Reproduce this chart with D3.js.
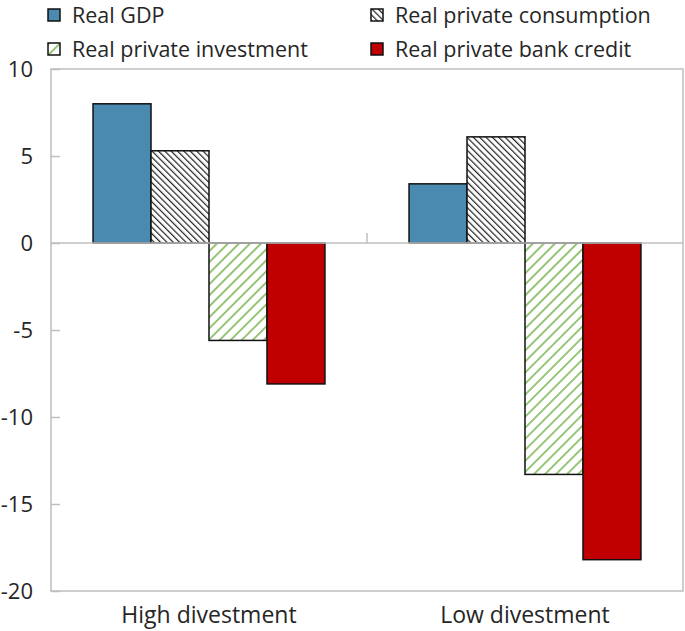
<!DOCTYPE html>
<html>
<head>
<meta charset="utf-8">
<script src="https://cdn.jsdelivr.net/npm/d3@7"></script>
<style>
  body { margin: 0; background: #fff; }
  text { font-family: "Open Sans", sans-serif; fill: #262626; }
</style>
</head>
<body>
<div id="chart"></div>
<script>
// data
var categories = ["High divestment", "Low divestment"];
var seriesNames = ["Real GDP", "Real private consumption", "Real private investment", "Real private bank credit"];
var gdp = [8.0, 3.4];
var consumption = [5.3, 6.1];
var investment = [-5.6, -13.3];
var credit = [-8.1, -18.2];
var yTicks = [10, 5, 0, -5, -10, -15, -20];

var seriesValues = [gdp, consumption, investment, credit];

svgWidth = 685;
svgHeight = 631;

margin = { top: 69, bottom: 40, left: 51, right: 2 };

svg = d3.select("#chart")
    .append("svg")
    .attr("width", svgWidth)
    .attr("height", svgHeight);

// patterns
var defs = svg.append("defs");

var hatch = defs.append("pattern")
    .attr("id", "hatchBlack")
    .attr("patternUnits", "userSpaceOnUse")
    .attr("width", 4.5)
    .attr("height", 4.5)
    .attr("patternTransform", "rotate(-45)");
hatch.append("rect").attr("width", 4.5).attr("height", 4.5).attr("fill", "#fff");
hatch.append("line")
    .attr("x1", 0).attr("y1", 0).attr("x2", 0).attr("y2", 4.5)
    .attr("stroke", "#222").attr("stroke-width", 2.4);

var green = defs.append("pattern")
    .attr("id", "hatchGreen")
    .attr("patternUnits", "userSpaceOnUse")
    .attr("width", 7.8)
    .attr("height", 7.8)
    .attr("patternTransform", "rotate(45)");
green.append("rect").attr("width", 7.8).attr("height", 7.8).attr("fill", "#fff");
green.append("line")
    .attr("x1", 0).attr("y1", 0).attr("x2", 0).attr("y2", 7.8)
    .attr("stroke", "#8dbf6a").attr("stroke-width", 3.6);

var fills = ["#4a89b0", "url(#hatchBlack)", "url(#hatchGreen)", "#c00000"];

// scales
var x0 = d3.scaleBand()
    .domain(categories)
    .range([margin.left, svgWidth - margin.right])
    .padding(0);

var x1 = d3.scaleBand()
    .domain(seriesNames)
    .range([0, x0.bandwidth()])
    .paddingInner(0)
    .paddingOuter(0.725);

var y = d3.scaleLinear()
    .domain([-20, 10])
    .range([svgHeight - margin.bottom, margin.top]);

// frame
svg.append("rect")
    .attr("x", margin.left)
    .attr("y", margin.top)
    .attr("width", svgWidth - margin.right - margin.left)
    .attr("height", y(-20) - y(10))
    .attr("fill", "none")
    .attr("stroke", "#bfbfbf")
    .attr("stroke-width", 1.5);

// y axis
var yAxis = d3.axisRight(y)
    .tickValues(yTicks)
    .tickSize(9)
    .tickFormat("");

var yG = svg.append("g")
    .attr("transform", `translate(${margin.left}, 0)`)
    .call(yAxis);
yG.select(".domain").remove();
yG.selectAll(".tick line").attr("stroke", "#bfbfbf").attr("stroke-width", 1.5);

svg.append("g")
    .selectAll("text")
    .data(yTicks)
    .enter()
    .append("text")
    .attr("x", margin.left - 18)
    .attr("y", d => y(d))
    .attr("dy", "0.35em")
    .attr("text-anchor", "end")
    .style("font-size", "22px")
    .text(d => d);

// bars
var groups = svg.append("g")
    .selectAll("g")
    .data(categories)
    .enter()
    .append("g")
    .attr("transform", d => `translate(${x0(d)}, 0)`);

groups.selectAll("rect")
    .data((d, i) => seriesNames.map((s, j) => ({ name: s, value: seriesValues[j][i], k: j })))
    .enter()
    .append("rect")
    .attr("x", d => x1(d.name))
    .attr("width", x1.bandwidth())
    .attr("y", d => y(Math.max(0, d.value)))
    .attr("height", d => Math.abs(y(d.value) - y(0)))
    .attr("fill", d => fills[d.k])
    .attr("stroke", "#111")
    .attr("stroke-width", 1.5);

// zero line and category separator
svg.append("line")
    .attr("x1", margin.left)
    .attr("x2", svgWidth - margin.right)
    .attr("y1", y(0))
    .attr("y2", y(0))
    .attr("stroke", "#bfbfbf")
    .attr("stroke-width", 1.5);

svg.append("line")
    .attr("x1", x0("Low divestment"))
    .attr("x2", x0("Low divestment"))
    .attr("y1", y(0))
    .attr("y2", y(0) - 10)
    .attr("stroke", "#bfbfbf")
    .attr("stroke-width", 1.5);

// category labels
svg.append("g")
    .selectAll("text")
    .data(categories)
    .enter()
    .append("text")
    .attr("x", d => x0(d) + x0.bandwidth() / 2)
    .attr("y", 623)
    .attr("text-anchor", "middle")
    .style("font-size", "23px")
    .text(d => d);

// legend
var legendPos = [[48, 9], [371, 9], [48, 43], [371, 43]];
var legend = svg.append("g")
    .selectAll("g")
    .data(seriesNames)
    .enter()
    .append("g")
    .attr("transform", (d, i) => `translate(${legendPos[i][0]}, ${legendPos[i][1]})`);

legend.append("rect")
    .attr("width", 12)
    .attr("height", 12)
    .attr("fill", (d, i) => fills[i])
    .attr("stroke", "#111")
    .attr("stroke-width", 1.5);

legend.append("text")
    .attr("x", 24)
    .attr("y", 14)
    .style("font-size", "21.5px")
    .text(d => d);
</script>
</body>
</html>
